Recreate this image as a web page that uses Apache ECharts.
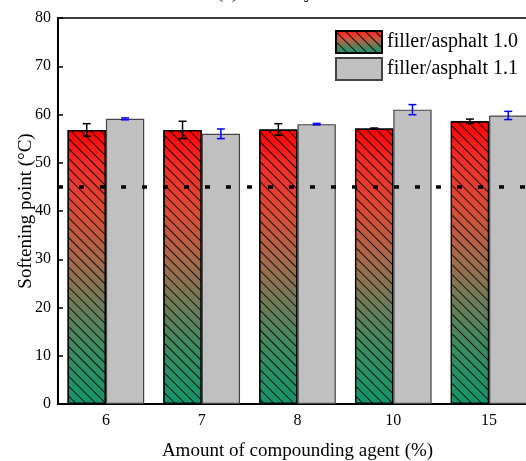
<!DOCTYPE html>
<html>
<head>
<meta charset="utf-8">
<style>
  html, body { margin: 0; padding: 0; background: #fff; }
  #chart { width: 526px; height: 461px; }
</style>
<script src="https://cdn.jsdelivr.net/npm/echarts@6/dist/echarts.min.js"></script>
</head>
<body>
<div id="chart"></div>
<script>
// Compounding agent dosage (%) on the x axis
const categories = ['6', '7', '8', '10', '15'];

// Softening point (°C), filler/asphalt ratio 1.0
const ratio10 = [56.8, 56.8, 56.9, 57.1, 58.6];
const ratio10Err = [1.3, 1.8, 1.2, 0.1, 0.45];

// Softening point (°C), filler/asphalt ratio 1.1
const ratio11 = [59.1, 56.0, 58.0, 61.0, 59.8];
const ratio11Err = [0.2, 1.0, 0.15, 1.05, 0.85];

// Specification limit drawn as the dotted reference line
const specLimit = 45;

const seriesNames = ['filler/asphalt 1.0', 'filler/asphalt 1.1'];
const yTicks = { min: 0, max: 80, interval: 10 };

const FONT = '"Liberation Serif", "Times New Roman", serif';

const redGreen = new echarts.graphic.LinearGradient(0, 0, 0, 1, [
  { offset: 0, color: '#ff0000' },
  { offset: 0.12, color: '#f22c28' },
  { offset: 0.3, color: '#d84b37' },
  { offset: 0.47, color: '#a8694b' },
  { offset: 0.63, color: '#6f7b57' },
  { offset: 0.8, color: '#3c8a60' },
  { offset: 1, color: '#129568' }
]);

// Error bars: side = -1 for the left bar in each group, +1 for the right one
function errorBars(values, errs, side, color) {
  return {
    type: 'custom',
    silent: true,
    z: 4,
    data: values.map((v, i) => [i, v - errs[i], v + errs[i]]),
    renderItem: function (params, api) {
      const i = api.value(0);
      const lo = api.coord([i, api.value(1)]);
      const hi = api.coord([i, api.value(2)]);
      const band = api.size([1, 0])[0];
      const barW = band * 0.8 / 2;
      const x = lo[0] + side * barW / 2;
      const cap = 4;
      const style = { stroke: color, lineWidth: 1.5 };
      return {
        type: 'group',
        children: [
          { type: 'line', shape: { x1: x, y1: lo[1], x2: x, y2: hi[1] }, style: style },
          { type: 'line', shape: { x1: x - cap, y1: lo[1], x2: x + cap, y2: lo[1] }, style: style },
          { type: 'line', shape: { x1: x - cap, y1: hi[1], x2: x + cap, y2: hi[1] }, style: style }
        ]
      };
    }
  };
}

const chart = echarts.init(document.getElementById('chart'), null, { renderer: 'canvas' });

chart.setOption({
  animation: false,
  backgroundColor: '#fff',
  title: {
    text: '(c) Viscosity',
    left: 212,
    top: -21,
    textStyle: { fontFamily: FONT, fontSize: 19, fontWeight: 'normal', color: '#000' }
  },
  legend: {
    orient: 'vertical',
    left: 335,
    top: 30,
    padding: 0,
    itemWidth: 46,
    itemHeight: 22,
    itemGap: 3,
    icon: 'rect',
    data: seriesNames,
    textStyle: { fontFamily: FONT, fontSize: 20, color: '#000' }
  },
  grid: {
    left: 58,
    top: 18,
    width: 479,
    bottom: 57,
    show: true,
    borderColor: '#000',
    borderWidth: 1.5,
    containLabel: false,
    outerBoundsMode: 'none'
  },
  xAxis: {
    type: 'category',
    data: categories,
    name: 'Amount of compounding agent (%)',
    nameLocation: 'middle',
    nameGap: 38,
    nameMoveOverlap: false,
    nameTextStyle: { fontFamily: FONT, fontSize: 19, color: '#000' },
    axisLine: { lineStyle: { color: '#000', width: 2 } },
    axisTick: { show: false },
    axisLabel: { fontFamily: FONT, fontSize: 16, color: '#000', margin: 9 }
  },
  yAxis: {
    type: 'value',
    min: yTicks.min,
    max: yTicks.max,
    interval: yTicks.interval,
    name: 'Softening point (°C)',
    nameLocation: 'middle',
    nameGap: 22,
    nameMoveOverlap: false,
    nameTextStyle: { fontFamily: FONT, fontSize: 19, color: '#000' },
    axisLine: { show: true, lineStyle: { color: '#000', width: 2 } },
    axisTick: { show: true, inside: true, length: 5, lineStyle: { color: '#000', width: 1.5 } },
    axisLabel: { fontFamily: FONT, fontSize: 16, color: '#000', margin: 7 },
    splitLine: { show: false }
  },
  series: [
    {
      name: seriesNames[0],
      type: 'bar',
      data: ratio10,
      barGap: '0%',
      barCategoryGap: '20%',
      itemStyle: {
        color: redGreen,
        borderColor: '#000',
        borderWidth: 1.2,
        decal: {
          symbol: 'rect',
          symbolSize: 1,
          dashArrayX: [1, 0],
          dashArrayY: [1, 5.8],
          rotation: Math.PI / 4,
          color: 'rgba(0,0,0,0.85)'
        }
      },
      markLine: {
        silent: true,
        symbol: ['none', 'none'],
        z: 6,
        label: { show: false },
        lineStyle: { color: '#000', width: 3.5, type: [5, 16] },
        data: [{ yAxis: specLimit }]
      }
    },
    {
      name: seriesNames[1],
      type: 'bar',
      data: ratio11,
      barGap: '0%',
      barCategoryGap: '20%',
      itemStyle: {
        color: '#c0c0c0',
        borderColor: '#444',
        borderWidth: 1.2
      }
    },
    errorBars(ratio10, ratio10Err, -1, '#000'),
    errorBars(ratio11, ratio11Err, 1, '#0000ff')
  ]
});
</script>
</body>
</html>
